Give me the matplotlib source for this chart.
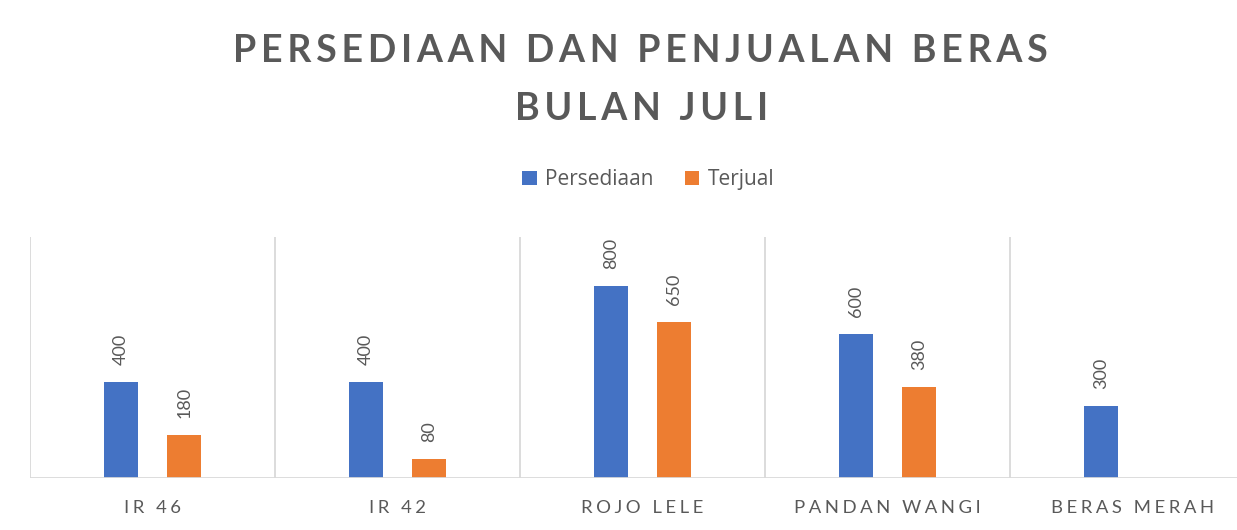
import matplotlib
matplotlib.use("Agg")
import matplotlib.pyplot as plt
import numpy as np

categories = ["IR 46", "IR 42", "ROJO LELE", "PANDAN WANGI", "BERAS MERAH"]
persediaan = [400, 400, 800, 600, 300]
terjual = [180, 80, 650, 380, np.nan]

BLUE = "#4472C4"
ORANGE = "#ED7D31"
GREY = "#595959"
LINE = "#D9D9D9"
FONT = ["Lato", "DejaVu Sans"]


def spaced(s, sep="\u2009", wsep=" "):
    # letter spacing the way Excel draws it
    return (sep + wsep + sep).join(sep.join(w) for w in s.split(" "))


fig = plt.figure(figsize=(12.37, 5.3), dpi=100)
ax = fig.add_axes([30 / 1237, 52 / 530, 1225 / 1237, 241 / 530])

x = np.arange(len(categories))
off, w = 0.129, 0.139
ax.bar(x - off, persediaan, w, color=BLUE, label="Persediaan", zorder=3)
ax.bar(x + off, terjual, w, color=ORANGE, label="Terjual", zorder=3)

for xi, v in zip(x - off, persediaan):
    ax.text(xi, v + 70, f"{v:g}", rotation=90, ha="center", va="bottom",
            color=GREY, fontsize=13, family=FONT)
for xi, v in zip(x + off, terjual):
    if not np.isnan(v):
        ax.text(xi, v + 70, f"{v:g}", rotation=90, ha="center", va="bottom",
                color=GREY, fontsize=13, family=FONT)

ax.set_xlim(-0.5, len(categories) - 0.5)
ax.set_ylim(0, 1005)
for b in np.arange(-0.5, len(categories), 1.0):
    ax.axvline(b, color=LINE, lw=1.3, zorder=1)
ax.axhline(0, color=LINE, lw=2, zorder=4)
for s in ax.spines.values():
    s.set_visible(False)
ax.set_yticks([])
ax.set_xticks(x)
ax.set_xticklabels([spaced(c, "\u2009\u200a") for c in categories], color=GREY,
                   fontsize=13.3, family=FONT)
ax.tick_params(axis="x", length=0, pad=16)

fig.text(0.518, 1 - 51 / 530, spaced("PERSEDIAAN DAN PENJUALAN BERAS"),
         ha="center", va="center", fontsize=27, fontweight="bold", color=GREY, family=FONT)
fig.text(0.519, 1 - 109 / 530, spaced("BULAN JULI"),
         ha="center", va="center", fontsize=27, fontweight="bold", color=GREY, family=FONT)

fig.legend(loc="center", bbox_to_anchor=(0.524, 1 - 180 / 530), ncol=2, frameon=False,
           prop={"family": ["Open Sans", "DejaVu Sans"], "size": 15}, labelcolor=GREY,
           handlelength=0.7, handleheight=0.7, handletextpad=0.4, columnspacing=1.5)

fig.savefig("out.png", dpi=100, facecolor="white")
